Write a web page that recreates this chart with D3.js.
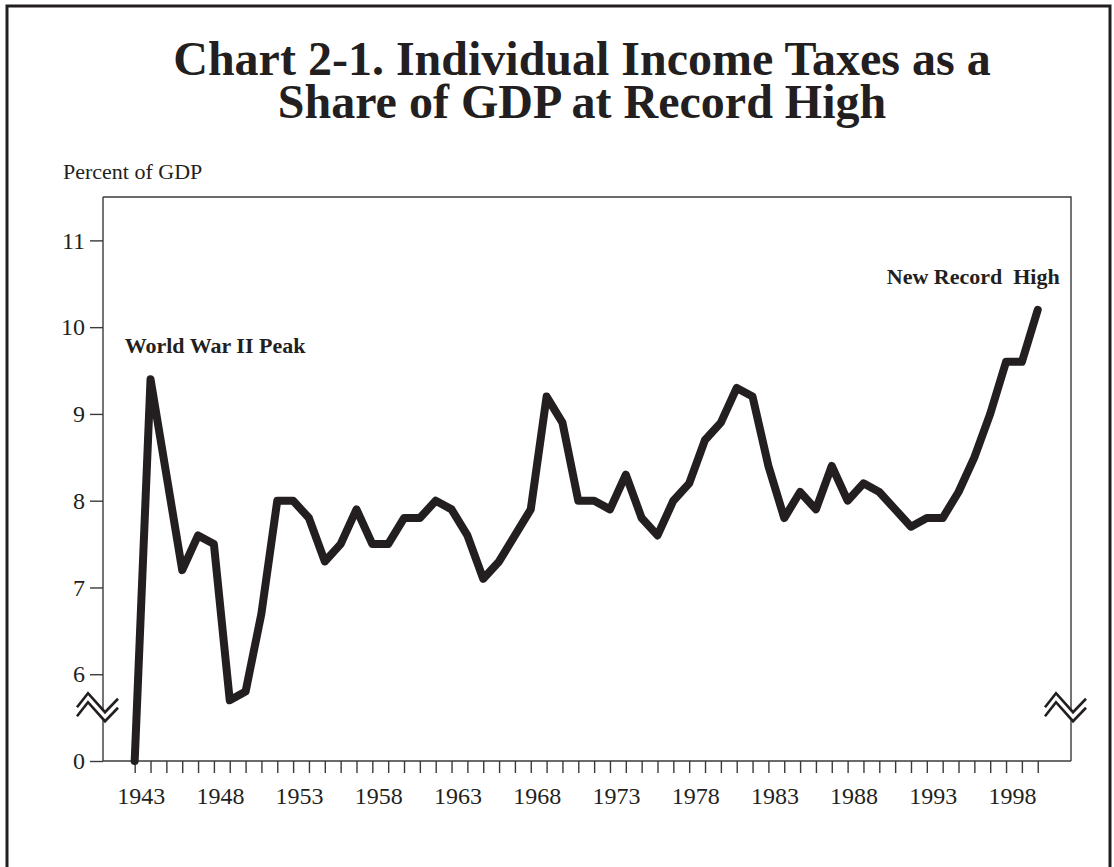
<!DOCTYPE html>
<html>
<head>
<meta charset="utf-8">
<script src="https://d3js.org/d3.v7.min.js"></script>
<style>
    body {
        margin: 0;
        background: #ffffff;
    }
    text {
        font-family: "Liberation Serif", "Times New Roman", serif;
        fill: #231f20;
    }
    .axis path, .axis line {
        stroke: #3a3a3a;
        stroke-width: 1.4px;
    }
    .axis text {
        font-size: 24px;
        fill: #231f20;
    }
    text.chart-title {
        font-size: 48px;
        font-weight: 700;
    }
    text.chart-label {
        font-size: 22px;
    }
    text.note {
        font-size: 22px;
        font-weight: 700;
        white-space: pre;
    }
</style>
</head>
<body>
<div id="viz_container"></div>

<script>
    // data
    const years = d3.range(1943, 2001);
    const shareOfGDP = [
        0, 9.4, 8.3, 7.2, 7.6, 7.5, 5.7, 5.8, 6.7, 8.0,
        8.0, 7.8, 7.3, 7.5, 7.9, 7.5, 7.5, 7.8, 7.8, 8.0,
        7.9, 7.6, 7.1, 7.3, 7.6, 7.9, 9.2, 8.9, 8.0, 8.0,
        7.9, 8.3, 7.8, 7.6, 8.0, 8.2, 8.7, 8.9, 9.3, 9.2,
        8.4, 7.8, 8.1, 7.9, 8.4, 8.0, 8.2, 8.1, 7.9, 7.7,
        7.8, 7.8, 8.1, 8.5, 9.0, 9.6, 9.6, 10.2
    ];
    const yTicks = [0, 6, 7, 8, 9, 10, 11];
    const xLabelYears = d3.range(1943, 2001, 5);
    const titleLines = ["Chart 2-1. Individual Income Taxes as a", "Share of GDP at Record High"];

    const data = years.map((y, i) => ({Year: y, Value: shareOfGDP[i]}));

    // dimensions
    const W = 1114, H = 867;
    const margin = {top: 197, right: 43, bottom: 106, left: 103};
    const width = W - margin.left - margin.right;
    const height = H - margin.top - margin.bottom;

    const root = d3.select("#viz_container")
        .append("svg")
        .attr("width", W)
        .attr("height", H);

    // outer frame
    root.append("rect")
        .attr("x", 7)
        .attr("y", 6)
        .attr("width", 1103)
        .attr("height", 900)
        .attr("fill", "none")
        .attr("stroke", "#231f20")
        .attr("stroke-width", 3);

    // title
    root.selectAll("text.chart-title")
        .data(titleLines)
        .join("text")
        .attr("class", "chart-title")
        .attr("x", 582)
        .attr("y", (d, i) => 75 + i * 43)
        .attr("text-anchor", "middle")
        .text(d => d);

    const svg = root.append("g")
        .attr("transform", `translate(${margin.left}, ${margin.top})`);

    // scales - y axis is broken between 0 and 6
    const xScale = d3.scaleLinear()
        .domain([1941, 2002.1])
        .range([0, width]);

    const yScale = d3.scaleLinear()
        .domain([0, 5, 11.5])
        .range([height, height, 0]);

    // plot frame (top and right)
    svg.append("path")
        .attr("d", `M0,0H${width}V${height}`)
        .attr("fill", "none")
        .attr("stroke", "#3a3a3a")
        .attr("stroke-width", 1.4);

    // x axis
    const xAxis = svg.append("g")
        .attr("class", "axis")
        .attr("transform", `translate(0, ${height})`)
        .call(d3.axisBottom(xScale)
            .tickValues(years)
            .tickSize(12)
            .tickSizeOuter(0)
            .tickPadding(14)
            .tickFormat(d => xLabelYears.includes(d) ? d : ""));
    xAxis.select(".domain").attr("d", `M0,0H${width}`);
    xAxis.selectAll("text").attr("x", 6).attr("dy", "0.71em");

    // y axis
    const yAxis = svg.append("g")
        .attr("class", "axis")
        .call(d3.axisLeft(yScale)
            .tickValues(yTicks)
            .tickSize(13)
            .tickSizeOuter(0)
            .tickPadding(5)
            .tickFormat(d3.format("d")));
    yAxis.select(".domain").attr("d", `M0,0V${height}`);

    // axis break symbols
    const breakY = yScale(6) + 33;
    const zig = [[-26, 0], [-15, -14], [2, 5], [15, -8.5]];
    const gap = 9;
    [0, width].forEach(ax => {
        const g = svg.append("g").attr("transform", `translate(${ax}, ${breakY})`);
        const upper = zig.map(p => [p[0], p[1]]);
        const lower = zig.map(p => [p[0], p[1] + gap]);
        g.append("path")
            .attr("d", d3.line()(upper.concat(lower.slice().reverse())) + "Z")
            .attr("fill", "#ffffff")
            .attr("stroke", "none");
        [upper, lower].forEach(pts => {
            g.append("path")
                .attr("d", d3.line()(pts))
                .attr("fill", "none")
                .attr("stroke", "#231f20")
                .attr("stroke-width", 2.6);
        });
    });

    // the line
    svg.append("path")
        .datum(data)
        .attr("fill", "none")
        .attr("stroke", "#231f20")
        .attr("stroke-width", 8)
        .attr("stroke-linejoin", "round")
        .attr("stroke-linecap", "round")
        .attr("d", d3.line()
            .x(d => xScale(d.Year))
            .y(d => yScale(d.Value)));

    // notes
    svg.append("text")
        .attr("class", "note")
        .attr("x", xScale(1943) - 10)
        .attr("y", yScale(10) + 26)
        .text("World War II Peak");

    svg.append("text")
        .attr("class", "note")
        .attr("x", xScale(2000) + 22)
        .attr("y", yScale(10.5))
        .attr("text-anchor", "end")
        .text("New Record  High");

    // y axis label
    root.append("text")
        .attr("class", "chart-label")
        .attr("x", 63)
        .attr("y", 179)
        .text("Percent of GDP");
</script>
</body>
</html>
